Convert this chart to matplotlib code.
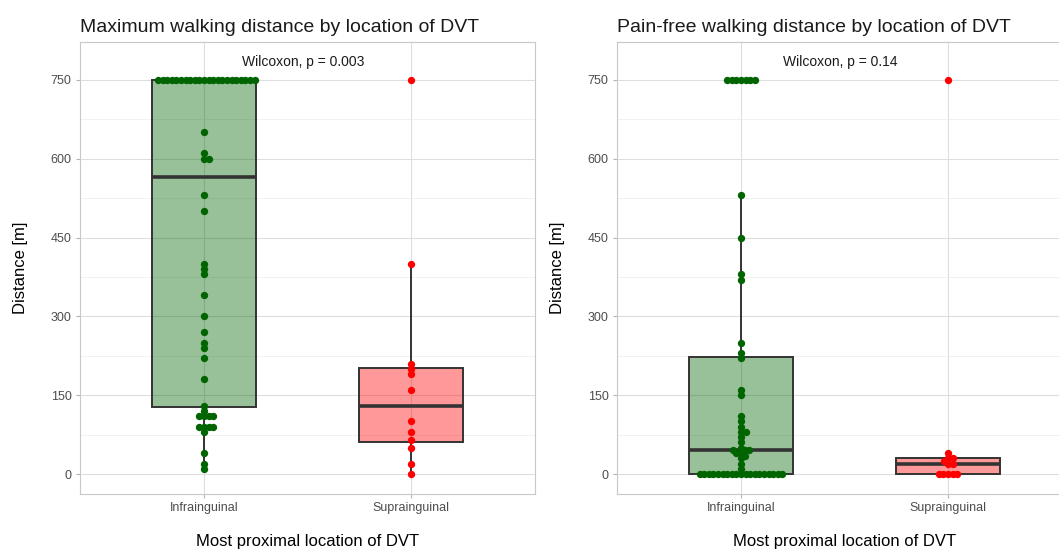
import numpy as np
import matplotlib.pyplot as plt
from matplotlib.colors import to_rgba

plt.rcParams['font.family'] = ['Liberation Sans', 'DejaVu Sans']

groups = ['Infrainguinal', 'Suprainguinal']

# maximum walking distance [m]
max_infra = [10, 20, 40, 80, 90, 90, 90, 90, 110, 110, 110, 110, 120, 130,
             180, 220, 240, 250, 270, 300, 340, 380, 390, 400, 500, 530,
             600, 600, 610, 650] + [750] * 22
max_supra = [0, 20, 50, 65, 80, 100, 160, 190, 200, 210, 400, 750]

# pain-free walking distance [m]
free_infra = [0] * 19 + [10, 20, 30, 35, 40, 40, 45, 45, 45, 50, 60, 70, 80, 80,
                         90, 100, 110, 150, 160, 220, 230, 250, 370, 380, 450,
                         530] + [750] * 7
free_supra = [0, 0, 0, 0, 0, 20, 20, 25, 30, 30, 40, 750]

titles = ['Maximum walking distance by location of DVT',
          'Pain-free walking distance by location of DVT']
pvals = ['Wilcoxon, p = 0.003', 'Wilcoxon, p = 0.14']
yticks = [0, 150, 300, 450, 600, 750]

fills = ['#006400', '#FF0000']
dots = ['#006400', '#FF0000']
edge = '#333333'


def swarm(ax, vals, xc, d=4.6):
    # simple beeswarm, offsets in pixels, lowest values placed first
    vals = np.asarray(vals, dtype=float)
    t = ax.transData
    ypx = t.transform(np.column_stack([np.full(len(vals), xc), vals]))[:, 1]
    xppu = t.transform([(1, 0)])[0, 0] - t.transform([(0, 0)])[0, 0]
    placed = []
    off = np.zeros(len(vals))
    for i in np.argsort(vals, kind='stable'):
        y = ypx[i]
        near = [(px, py) for px, py in placed if abs(py - y) < d]
        cands = [0.0]
        for px, py in near:
            dx = np.sqrt(d ** 2 - (py - y) ** 2)
            cands += [px + dx, px - dx]
        cands.sort(key=lambda c: (round(abs(c), 6), -c))
        for c in cands:
            if all((c - px) ** 2 + (y - py) ** 2 >= d ** 2 - 1e-6 for px, py in near):
                break
        placed.append((c, y))
        off[i] = c
    return xc + off / xppu


fig = plt.figure(figsize=(10.59, 5.51), dpi=100)
W, H = 1059, 551
lefts = [80, 617]
data = [(max_infra, max_supra), (free_infra, free_supra)]

for k in range(2):
    ax = fig.add_axes([lefts[k] / W, (H - 494) / H, 455 / W, 452 / H])

    bp = ax.boxplot(list(data[k]), positions=[1, 2], widths=0.5, whis=1.5,
                    showfliers=False, showcaps=False, patch_artist=True,
                    medianprops=dict(color=edge, lw=2.6),
                    whiskerprops=dict(color=edge, lw=1.4),
                    boxprops=dict(edgecolor=edge, lw=1.4))
    for patch, c in zip(bp['boxes'], fills):
        patch.set_facecolor(to_rgba(c, 0.4))

    ax.set_xlim(0.4, 2.6)
    ax.set_ylim(-38, 822)
    ax.set_yticks(yticks)
    ax.set_yticks([75, 225, 375, 525, 675], minor=True)
    ax.set_xticks([1, 2])
    ax.set_xticklabels(groups)
    ax.grid(True, which='major', color='#DEDEDE', lw=0.8)
    ax.grid(True, which='minor', axis='y', color='#EBEBEB', lw=0.5)
    ax.set_axisbelow(True)
    for s in ax.spines.values():
        s.set_color('#C8C8C8')
        s.set_linewidth(0.8)
    ax.tick_params(axis='both', which='major', length=3, color='#B3B3B3',
                   labelsize=9, labelcolor='#4D4D4D', pad=3)
    ax.tick_params(axis='y', which='minor', length=0)

    for j in range(2):
        xs = swarm(ax, data[k][j], j + 1)
        ax.scatter(xs, data[k][j], s=28, color=dots[j], linewidths=0, zorder=5)

    ax.text(1.48, 784, pvals[k], ha='center', va='center', fontsize=10,
            color='#1A1A1A')
    ax.set_title(titles[k], loc='left', fontsize=14, pad=7, color='#1A1A1A')
    ax.set_ylabel('Distance [m]', fontsize=12, labelpad=16)
    ax.set_xlabel('Most proximal location of DVT', fontsize=12, labelpad=14)

fig.savefig('out.png', dpi=100)
